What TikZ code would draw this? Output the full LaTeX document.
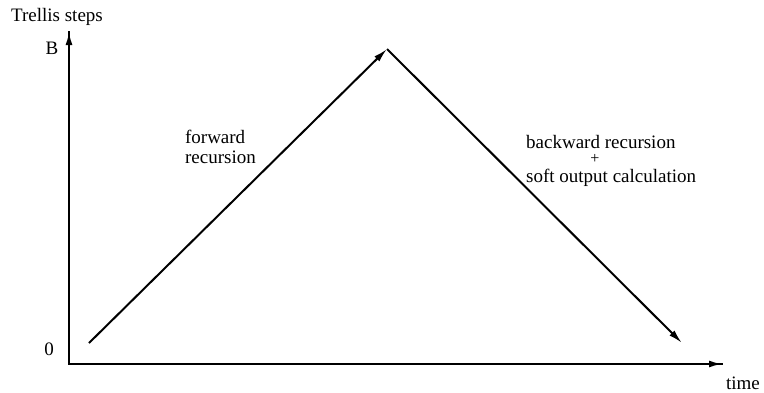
\documentclass[tikz,border=0pt]{standalone}
\usepackage{fontspec}
\setmainfont{Liberation Serif}
\usetikzlibrary{arrows.meta}
\begin{document}
\begin{tikzpicture}[x=1pt,y=-1pt,
  lbl/.style={inner sep=0pt,font=\fontsize{19}{20}\selectfont},
  axis/.style={line width=2pt,-{Latex[length=13pt,width=7pt]}},
  path/.style={line width=2pt,-{Latex[length=14pt,width=7pt]}}]
\useasboundingbox (0,0) rectangle (764,392);
\coordinate (O) at (69,364);
\coordinate (ytop) at (69,32);
\coordinate (xend) at (722,364);
\coordinate (s) at (89,343);
\coordinate (p) at (387,49);
\coordinate (e) at (682,343);
\draw[line width=2pt,line cap=rect] (ytop) -- (O) -- (xend);
\draw[axis] (O) -- (ytop);
\draw[axis] (O) -- (xend);
\draw[path] (s) -- (p);
\draw[path] (p) -- (e);
\node[lbl] (ttl) at (57,17) {Trellis steps};
\node[lbl] (B) at (52,48) {B};
\node[lbl] (zero) at (49,349) {0};
\node[lbl,anchor=east] (time) at (760,383) {time};
\node[lbl,align=left,anchor=east] (fw) at (256,147) {forward\\recursion};
\node[lbl,anchor=west] (bw1) at (526,142) {backward recursion};
\node[lbl,font=\fontsize{16}{16}\selectfont] (plus) at (595,159) {+};
\node[lbl,anchor=west] (bw2) at (526,178) {soft output calculation};
\end{tikzpicture}
\end{document}
